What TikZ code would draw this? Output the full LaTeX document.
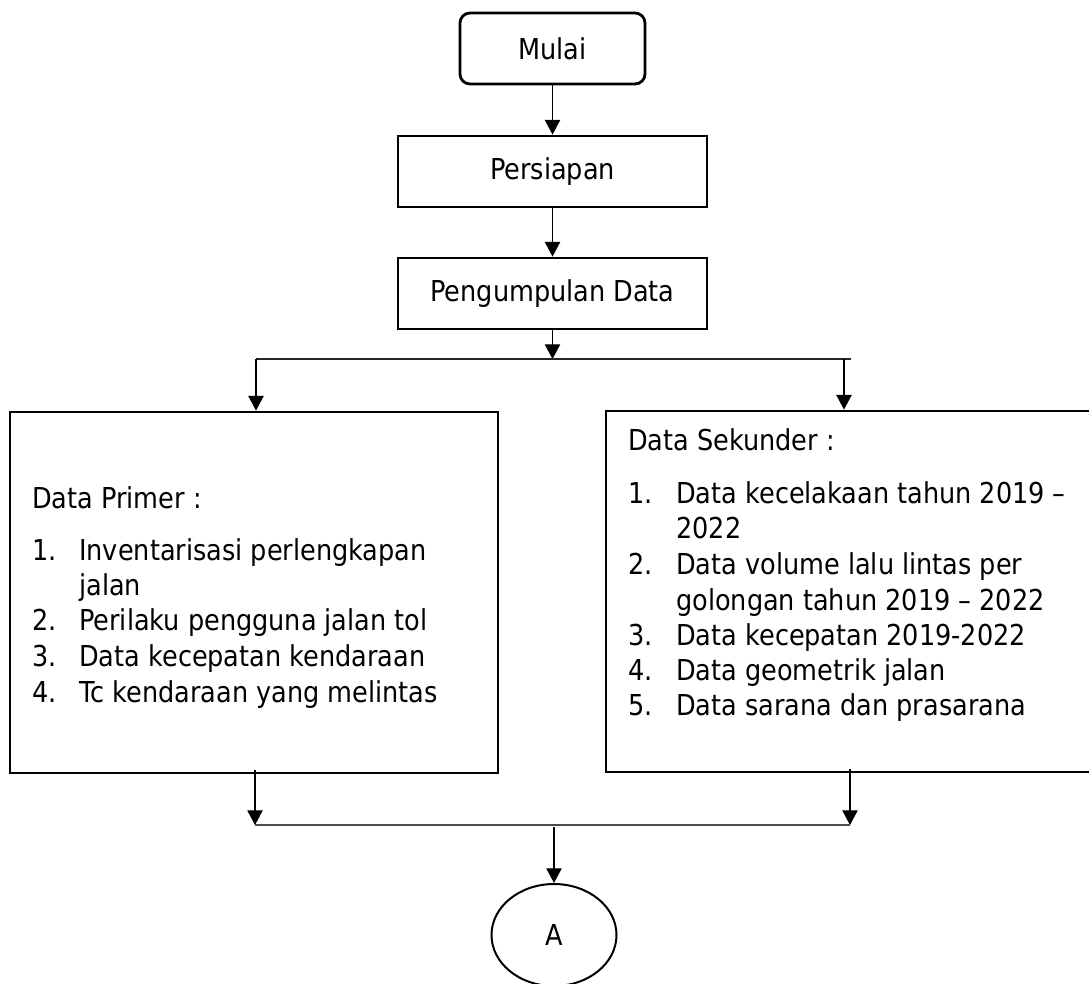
\documentclass[tikz,border=0pt]{standalone}
\usepackage{fontspec}
\setmainfont[FakeStretch=0.887]{DejaVu Sans}
\usetikzlibrary{arrows.meta,shapes.geometric}
\tikzset{
  boxline/.style={draw, line width=2.1pt, inner sep=0pt},
  rbox/.style={boxline, rectangle, rounded corners=7.5pt},
  sbox/.style={boxline, rectangle},
  txt/.style={anchor=base west, inner sep=0pt},
  arr/.style={line width=0.9pt, -{Triangle[width=11.5pt,length=11pt]}},
  splitline/.style={line width=1.1pt, black!85},
  mergeline/.style={line width=1.5pt, black!70},
}
\begin{document}
\begin{tikzpicture}[x=0.75pt,y=-0.75pt,font=\fontsize{21.6pt}{26pt}\selectfont]
\useasboundingbox (0,0) rectangle (1089,983);
\clip (0,0) rectangle (1089,983);
% boxes
\node[rbox, minimum width=138.75pt, minimum height=53.25pt] (mulai) at (552.5,48.5) {Mulai};
\node[sbox, minimum width=231.75pt, minimum height=53.25pt] (persiapan) at (552.5,171.5) {Persiapan};
\node[sbox, minimum width=231.75pt, minimum height=53.25pt] (pengumpulan) at (552.5,293.5) {Pengumpulan Data};
\node[sbox, minimum width=366pt, minimum height=270.75pt] (primer) at (254,592.5) {};
\node[sbox, minimum width=378pt, minimum height=270.75pt] (sekunder) at (858,591.5) {};
\node[draw, ellipse, line width=1.5pt, inner sep=0pt, minimum width=93.75pt, minimum height=76.5pt] (A) at (554,935) {A};
% primer text
\node[txt] (p0) at (32,508) {Data Primer :};
\node[txt] (p1n) at (32,560) {1.};
\node[txt] (p1) at (79,560) {Inventarisasi perlengkapan};
\node[txt] (p1b) at (79,595) {jalan};
\node[txt] (p2n) at (32,630) {2.};
\node[txt] (p2) at (79,630) {Perilaku pengguna jalan tol};
\node[txt] (p3n) at (32,666) {3.};
\node[txt] (p3) at (79,666) {Data kecepatan kendaraan};
\node[txt] (p4n) at (32,702) {4.};
\node[txt] (p4) at (79,702) {Tc kendaraan yang melintas};
% sekunder text
\node[txt] (s0) at (628,450) {Data Sekunder :};
\node[txt] (s1n) at (628,503) {1.};
\node[txt] (s1) at (676,503) {Data kecelakaan tahun 2019 –};
\node[txt] (s1b) at (676,538) {2022};
\node[txt] (s2n) at (628,574) {2.};
\node[txt] (s2) at (676,574) {Data volume lalu lintas per};
\node[txt] (s2b) at (676,610) {golongan tahun 2019 – 2022};
\node[txt] (s3n) at (628,645) {3.};
\node[txt] (s3) at (676,645) {Data kecepatan 2019-2022};
\node[txt] (s4n) at (628,680) {4.};
\node[txt] (s4) at (676,680) {Data geometrik jalan};
\node[txt] (s5n) at (628,715) {5.};
\node[txt] (s5) at (676,715) {Data sarana dan prasarana};
% coordinates
\coordinate (split) at (552.5,359);
\coordinate (bl) at (256,359);
\coordinate (br) at (851,359);
\coordinate (brr) at (844,359);
\coordinate (ml) at (255,825);
\coordinate (mr) at (850,825);
\coordinate (mc) at (554,827);
% connectors
\draw[arr] (mulai.south) -- (persiapan.north);
\draw[arr] (persiapan.south) -- (pengumpulan.north);
\draw[arr] (pengumpulan.south) -- (split);
\draw[splitline] (bl) -- (br);
\draw[arr] (bl) -- (bl |- primer.north);
\draw[arr] (brr) -- (brr |- sekunder.north);
\draw[arr] ([yshift=3pt]ml |- primer.south) -- (ml);
\draw[arr] ([yshift=3pt]mr |- sekunder.south) -- (mr);
\draw[mergeline] (ml) -- (mr);
\draw[arr] (mc) -- (A.north);
\end{tikzpicture}
\end{document}
